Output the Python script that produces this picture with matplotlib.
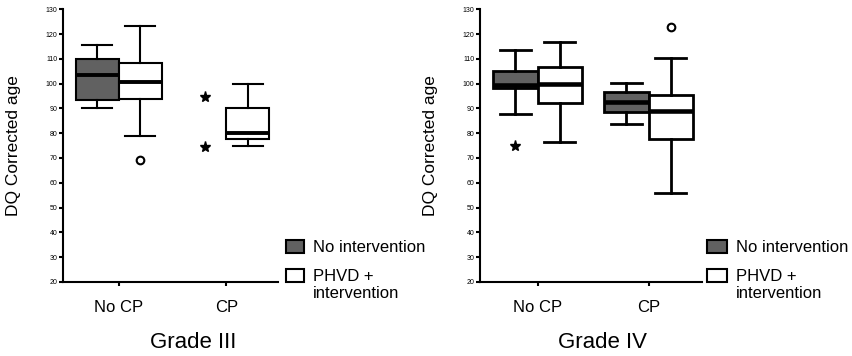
import matplotlib.pyplot as plt
from matplotlib.patches import Rectangle

plt.rcParams['font.family'] = ['Liberation Sans', 'DejaVu Sans']

groups = ['No CP', 'CP']
series = ['No intervention', 'PHVD +\nintervention']
panels = ['Grade III', 'Grade IV']

# box statistics: [No CP, CP] for each series
# Grade III
g3_none_q1 = [93.2, None]
g3_none_med = [103.6, None]
g3_none_q3 = [110.0, None]
g3_none_lo = [90.0, None]
g3_none_hi = [115.4, None]
g3_none_out = [[], [94.6, 74.3]]

g3_phvd_q1 = [94.0, 77.6]
g3_phvd_med = [100.5, 80.1]
g3_phvd_q3 = [108.4, 90.3]
g3_phvd_lo = [79.0, 75.0]
g3_phvd_hi = [123.2, 100.0]
g3_phvd_out = [[69.2], []]

# Grade IV
g4_none_q1 = [98.1, 88.7]
g4_none_med = [99.5, 92.5]
g4_none_q3 = [105.2, 96.8]
g4_none_lo = [87.8, 83.7]
g4_none_hi = [113.6, 100.4]
g4_none_out = [[74.8], []]

g4_phvd_q1 = [92.3, 77.5]
g4_phvd_med = [100.0, 89.0]
g4_phvd_q3 = [106.6, 95.4]
g4_phvd_lo = [76.6, 56.0]
g4_phvd_hi = [116.9, 110.2]
g4_phvd_out = [[], [123.0]]

yticks = list(range(20, 131, 10))

fill_colors = ['#616161', 'white']


def make_stats(q1, med, q3, lo, hi):
    stats = []
    for i in range(len(groups)):
        if med[i] is None:
            stats.append(None)
        else:
            stats.append(dict(q1=q1[i], med=med[i], q3=q3[i],
                              whislo=lo[i], whishi=hi[i], fliers=[]))
    return stats


panel_data = [
    ([make_stats(g3_none_q1, g3_none_med, g3_none_q3, g3_none_lo, g3_none_hi),
      make_stats(g3_phvd_q1, g3_phvd_med, g3_phvd_q3, g3_phvd_lo, g3_phvd_hi)],
     [g3_none_out, g3_phvd_out]),
    ([make_stats(g4_none_q1, g4_none_med, g4_none_q3, g4_none_lo, g4_none_hi),
      make_stats(g4_phvd_q1, g4_phvd_med, g4_phvd_q3, g4_phvd_lo, g4_phvd_hi)],
     [g4_none_out, g4_phvd_out]),
]

fig = plt.figure(figsize=(8.53, 3.56), dpi=100)
axes_rects = [[0.0739, 0.208, 0.252, 0.766], [0.5627, 0.208, 0.260, 0.766]]
lws = [1.5, 2.0]
title_x = [0.605, 0.554]

for p, (stats_by_series, outs_by_series) in enumerate(panel_data):
    ax = fig.add_axes(axes_rects[p])
    lw = lws[p]
    for s, stats in enumerate(stats_by_series):
        offset = -0.2 if s == 0 else 0.2
        for g, st in enumerate(stats):
            pos = g + offset
            if st is not None:
                ax.bxp([st], positions=[pos], widths=0.4, patch_artist=True,
                       showfliers=False, capwidths=0.28,
                       boxprops=dict(facecolor=fill_colors[s], edgecolor='black', linewidth=lw),
                       medianprops=dict(color='black', linewidth=lw + 1.3),
                       whiskerprops=dict(color='black', linewidth=lw),
                       capprops=dict(color='black', linewidth=lw))
            outs = outs_by_series[s][g]
            if outs:
                if s == 0:
                    ax.plot([pos] * len(outs), outs, linestyle='none', marker='*',
                            markersize=8, color='black', zorder=5)
                else:
                    ax.plot([pos] * len(outs), outs, linestyle='none', marker='o',
                            markersize=5.5, markerfacecolor='white',
                            markeredgecolor='black', markeredgewidth=1.5, zorder=5)

    ax.set_xlim(-0.52, 1.48)
    ax.set_ylim(20, 130)
    ax.set_yticks(yticks)
    ax.set_yticklabels([str(v) for v in yticks], fontsize=5)
    ax.set_xticks(range(len(groups)))
    ax.set_xticklabels(groups, fontsize=12)
    ax.tick_params(axis='y', length=3, width=1.5, pad=1)
    ax.tick_params(axis='x', length=3, width=1.5, pad=10)
    ax.spines['top'].set_visible(False)
    ax.spines['right'].set_visible(False)
    ax.spines['left'].set_linewidth(1.5)
    ax.spines['bottom'].set_linewidth(1.5)
    ax.set_ylabel('DQ Corrected age', fontsize=12.5, labelpad=18)
    ax.set_xlabel(panels[p], fontsize=16, labelpad=14)
    ax.xaxis.set_label_coords(title_x[p], -0.185)

# legends drawn beside each panel
leg_x = [286, 707]
leg_w = [18, 20]
for p in range(2):
    for s in range(2):
        top = [240, 269][s]
        x0 = leg_x[p] / 853
        y0 = 1 - (top + 13) / 356
        fig.patches.append(Rectangle((x0, y0), leg_w[p] / 853, 13 / 356,
                                     transform=fig.transFigure, facecolor=fill_colors[s],
                                     edgecolor='black', linewidth=1.5))
        fig.text((leg_x[p] + leg_w[p] + 9) / 853, 1 - (top + 7) / 356 if s == 0 else 1 - (top + 0) / 356,
                 series[s], fontsize=12, va='center' if s == 0 else 'top',
                 ha='left', linespacing=1.2)

fig.savefig('out.png', dpi=100)
